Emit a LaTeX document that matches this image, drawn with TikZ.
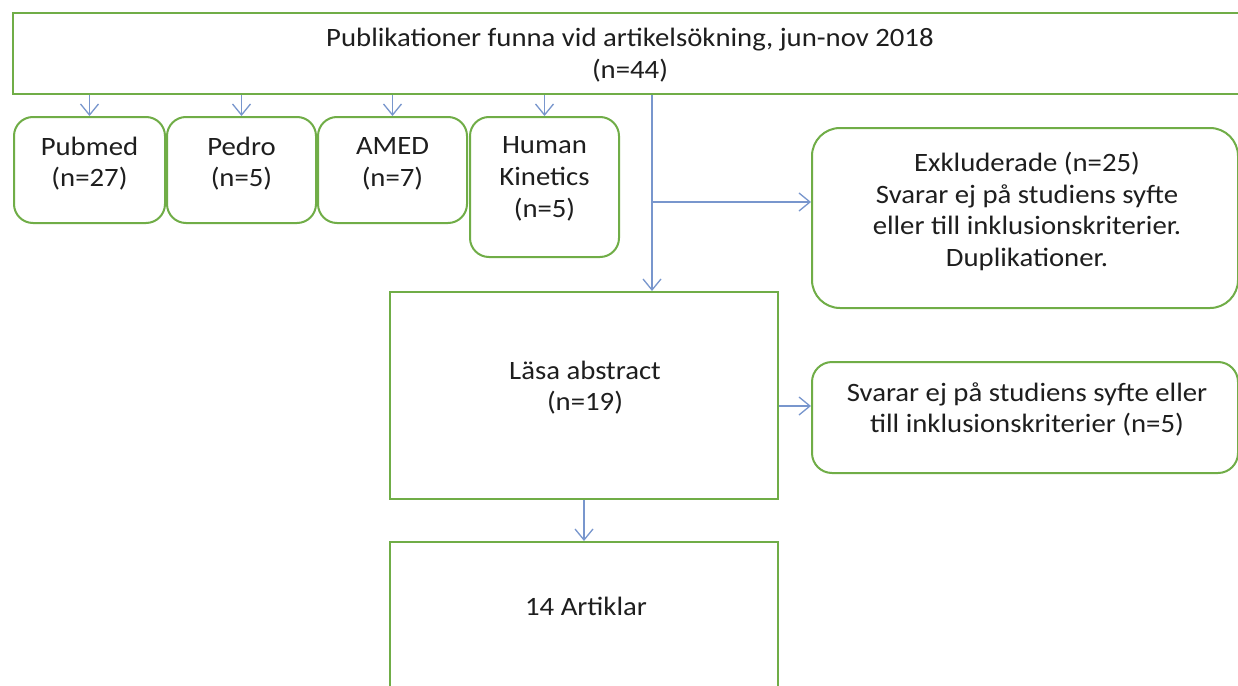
\documentclass[tikz,border=0pt]{standalone}
\usepackage{fontspec}
\setmainfont{Carlito}[FakeStretch=1.085]
\usetikzlibrary{arrows.meta}
\definecolor{boxgreen}{RGB}{112,173,71}
\definecolor{arrblue}{RGB}{120,150,205}
\definecolor{txt}{RGB}{30,30,30}
\tikzset{
  box/.style={draw=boxgreen, line width=2pt, fill=white, inner sep=0pt},
  rbox/.style={box, rounded corners=19pt},
  lbl/.style={align=center, text=txt, inner sep=0pt, font=\fontsize{26.5}{31.7}\selectfont},
  arr/.style={draw=arrblue, line width=1.3pt, -{Straight Barb[length=11pt,width=18pt,line width=1.3pt]}},
}
\begin{document}
\begin{tikzpicture}[x=1pt,y=-1pt]
\useasboundingbox (0,0) rectangle (1238,685);
\clip (0,0) rectangle (1238,685);
\fill[white] (0,0) rectangle (1238,685);
% boxes
\node[box, minimum width=1240pt, minimum height=81pt] (top) at (633,53.5) {};
\node[rbox, minimum width=151pt, minimum height=106pt] (pub) at (89.5,170) {};
\node[rbox, minimum width=149pt, minimum height=106pt] (ped) at (241.5,170) {};
\node[rbox, minimum width=149pt, minimum height=106pt] (amed) at (392.5,170) {};
\node[rbox, minimum width=149pt, minimum height=140pt] (hk) at (544.5,187) {};
\node[box, rounded corners=28pt, minimum width=426pt, minimum height=180pt] (exkl) at (1025,218) {};
\node[box, rounded corners=20pt, minimum width=426pt, minimum height=111pt] (exkl2) at (1025,417.5) {};
\node[box, minimum width=388pt, minimum height=207pt] (lasa) at (584,395.5) {};
\node[box, minimum width=388pt, minimum height=180pt] (art) at (584,632) {};
% texts
\node[lbl] (ttop) at (630,55) {Publikationer funna vid artikelsökning, jun-nov 2018\\(n=44)};
\node[lbl] (tpub) at (89.5,163.5) {Pubmed\\(n=27)};
\node[lbl] (tped) at (241.5,163.5) {Pedro\\(n=5)};
\node[lbl] (tamed) at (392.5,163.5) {AMED\\(n=7)};
\node[lbl] (thk) at (544.5,179) {Human\\Kinetics\\(n=5)};
\node[lbl] (texkl) at (1027,211.5) {Exkluderade (n=25)\\Svarar ej på studiens syfte\\eller till inklusionskriterier.\\Duplikationer.};
\node[lbl] (texkl2) at (1027,409.5) {Svarar ej på studiens syfte eller\\till inklusionskriterier (n=5)};
\node[lbl] (tlasa) at (585,387.5) {Läsa abstract\\(n=19)};
\node[lbl] (tart) at (586,606) {14 Artiklar};
% connectors
\coordinate (split) at (652,202);
\coordinate (s2) at (0,406);
\draw[arr] (top.south -| pub.north) -- (pub.north);
\draw[arr] (top.south -| ped.north) -- (ped.north);
\draw[arr] (top.south -| amed.north) -- (amed.north);
\draw[arr] (top.south -| hk.north) -- (hk.north);
\draw[arr] (top.south -| split) -- (lasa.north -| split);
\draw[arr] (split) -- (split -| exkl.west);
\draw[arr] (lasa.east |- s2) -- (exkl2.west |- s2);
\draw[arr] (lasa.south) -- (art.north);
\end{tikzpicture}
\end{document}
